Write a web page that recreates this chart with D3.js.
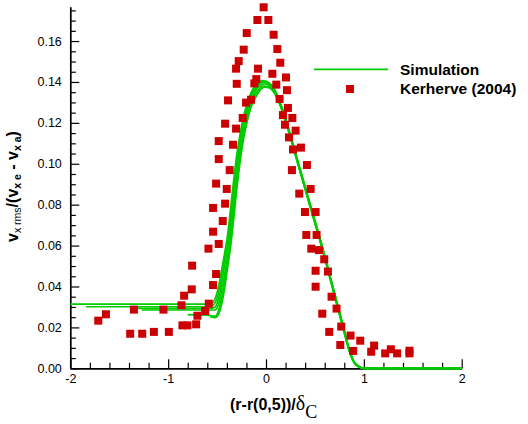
<!DOCTYPE html>
<html>
<head>
<meta charset="utf-8">
<script src="https://cdn.jsdelivr.net/npm/d3@7"></script>
<style>
  html, body { margin: 0; padding: 0; background: #fff; }
  svg { display: block; font-family: "Liberation Sans", Arial, Helvetica, sans-serif; }
</style>
</head>
<body>
<svg id="chart" width="528" height="424"></svg>
<script>
// ---------- Data ----------
// Experimental (Kerherve 2004)
const expX = [-0.024,-0.088,0.024,-0.197,0.078,-0.228,0.116,-0.279,0.146,-0.306,
  -0.082,0.065,0.204,-0.099,-0.299,-0.119,0.105,0.214,-0.388,-0.153,
  -0.204,0.139,0.224,0.173,-0.238,0.269,-0.418,0.194,-0.306,0.303,
  0.235,-0.483,-0.337,0.276,0.357,-0.483,-0.371,0.265,0.418,-0.510,
  -0.401,0.456,0.340,-0.541,-0.418,0.398,0.507,-0.442,-0.541,0.412,
  0.517,-0.483,-0.588,0.463,0.541,0.595,-0.755,0.507,0.633,-0.510,
  -0.759,-0.541,0.507,-0.837,0.670,-0.864,-0.585,-0.622,-0.701,-1.350,
  -1.048,0.721,0.575,-1.714,-1.636,-0.854,-0.803,-0.714,0.769,0.646,
  -1.388,-1.265,-1.146,-0.993,0.864,0.963,0.759,1.105,0.891,1.075,
  1.276,1.218,1.340,1.466,1.466];
const expY = [0.1765,0.1703,0.1703,0.1639,0.1631,0.1558,0.1561,0.1502,0.1494,0.1465,
  0.1465,0.1440,0.1422,0.1414,0.1391,0.1393,0.1387,0.1360,0.1310,0.1313,
  0.1299,0.1317,0.1273,0.1238,0.1224,0.1224,0.1196,0.1191,0.1172,0.1162,
  0.1129,0.1111,0.1093,0.1070,0.1079,0.1023,0.0969,0.0969,0.0994,0.0903,
  0.0877,0.0877,0.0854,0.0784,0.0805,0.0764,0.0764,0.0720,0.0668,0.0652,
  0.0652,0.0608,0.0585,0.0585,0.0578,0.0533,0.0502,0.0477,0.0473,0.0461,
  0.0386,0.0407,0.0399,0.0355,0.0350,0.0308,0.0316,0.0280,0.0257,0.0287,
  0.0287,0.0292,0.0267,0.0233,0.0264,0.0210,0.0210,0.0215,0.0204,0.0178,
  0.0169,0.0169,0.0178,0.0178,0.0160,0.0135,0.0114,0.0111,0.0085,0.0081,
  0.0093,0.0073,0.0073,0.0086,0.0073];

// Simulation curves (shared abscissa; null = curve not defined there)
const simX = [-2,-1.84,-1.39,-1.27,-0.80,-0.57,-0.52,-0.48,-0.45,-0.42,
  -0.39,-0.36,-0.33,-0.30,-0.27,-0.23,-0.19,-0.15,-0.10,-0.05,
  -0.02,0.03,0.08,0.14,0.21,0.33,0.45,0.57,0.68,0.79,
  0.85,0.90,0.95,1.00,2.00];
const sim1 = [0.0314,0.0314,0.0314,0.0314,0.0314,0.0314,0.0340,0.0410,0.0490,0.0570,
  0.0660,0.0790,0.0920,0.1040,0.1130,0.1230,0.1300,0.1350,0.1390,0.1405,
  0.1405,0.1395,0.1370,0.1305,0.1205,0.1005,0.0805,0.0605,0.0405,0.0205,
  0.0095,0.0033,0.0010,0.0000,0.0000];
const sim2 = [null,0.0301,0.0301,0.0301,0.0301,0.0301,0.0320,0.0380,0.0460,0.0540,
  0.0620,0.0740,0.0880,0.1000,0.1100,0.1210,0.1280,0.1340,0.1380,0.1400,
  0.1400,0.1393,0.1368,0.1302,0.1202,0.1002,0.0802,0.0602,0.0402,0.0202,
  0.0092,0.0031,0.0009,0.0000,0.0000];
const sim3 = [null,null,0.0293,0.0293,0.0293,0.0293,0.0300,0.0350,0.0430,0.0510,
  0.0590,0.0700,0.0840,0.0970,0.1080,0.1190,0.1270,0.1330,0.1370,0.1395,
  0.1398,0.1392,0.1366,0.1301,0.1201,0.1001,0.0801,0.0601,0.0401,0.0201,
  0.0091,0.0030,0.0008,0.0000,0.0000];
const sim4 = [null,null,null,0.0285,0.0285,0.0285,0.0285,0.0320,0.0390,0.0470,
  0.0550,0.0650,0.0790,0.0930,0.1050,0.1170,0.1250,0.1310,0.1360,0.1385,
  0.1390,0.1385,0.1362,0.1298,0.1198,0.0998,0.0798,0.0598,0.0398,0.0198,
  0.0090,0.0029,0.0008,0.0000,0.0000];
const sim5 = [null,null,null,null,0.0262,0.0258,0.0255,0.0290,0.0350,0.0440,
  0.0530,0.0630,0.0760,0.0900,0.1020,0.1150,0.1230,0.1300,0.1345,0.1375,
  0.1380,0.1378,0.1355,0.1295,0.1195,0.0995,0.0795,0.0595,0.0395,0.0195,
  0.0088,0.0028,0.0007,0.0000,0.0000];
const sim6 = [null,null,null,null,null,0.0252,0.0248,0.0270,0.0320,0.0400,
  0.0500,0.0600,0.0730,0.0870,0.0990,0.1120,0.1210,0.1280,0.1330,0.1365,
  0.1375,0.1372,0.1350,0.1290,0.1190,0.0990,0.0790,0.0590,0.0390,0.0190,
  0.0085,0.0027,0.0006,0.0000,0.0000];
const simSeries = [sim1, sim2, sim3, sim4, sim5, sim6];

// Axis ticks
const xTicks = [-2,-1,0,1,2];
const xMinorTicks = [-1.8,-1.6,-1.4,-1.2,-0.8,-0.6,-0.4,-0.2,0.2,0.4,0.6,0.8,1.2,1.4,1.6,1.8];
const yTicks = [0,0.02,0.04,0.06,0.08,0.10,0.12,0.14,0.16];
const yMinorTicks = [0.005,0.01,0.015,0.025,0.03,0.035,0.045,0.05,0.055,0.065,0.07,0.075,
  0.085,0.09,0.095,0.105,0.11,0.115,0.125,0.13,0.135,0.145,0.15,0.155,0.165,0.17,0.175];
const legendLabels = ["Simulation", "Kerherve (2004)"];

// ---------- Drawing ----------
const green = "#00cc00", red = "#cc0000";
const svg = d3.select("#chart");
const x = d3.scaleLinear().domain([-2, 2]).range([70.3, 461.7]);
const y = d3.scaleLinear().domain([0, 0.1768]).range([368.3, 6.7]);

// simulation lines
const line = d3.line()
  .defined(d => d[1] !== null)
  .x(d => x(d[0])).y(d => y(d[1]))
  .curve(d3.curveMonotoneX);
svg.append("g").selectAll("path").data(simSeries).join("path")
  .attr("d", s => line(simX.map((v, i) => [v, s[i]])))
  .attr("fill", "none").attr("stroke", green).attr("stroke-width", 1.7);

// axes
const fmtY = d3.format(".2f");
const gy = svg.append("g").attr("transform", `translate(${x(-2)},0)`);
gy.call(d3.axisLeft(y).tickValues(yTicks).tickFormat(fmtY).tickSize(-9).tickSizeOuter(0).tickPadding(8.5));
const gyMinor = svg.append("g").attr("transform", `translate(${x(-2)},0)`);
gyMinor.call(d3.axisLeft(y).tickValues(yMinorTicks).tickFormat("").tickSize(-5.5).tickSizeOuter(0));
gyMinor.select(".domain").remove();

const gx = svg.append("g").attr("transform", `translate(0,${y(0)})`);
gx.call(d3.axisBottom(x).tickValues(xTicks).tickFormat(d => String(d)).tickSize(-9).tickSizeOuter(0).tickPadding(5.5));
const gxMinor = svg.append("g").attr("transform", `translate(0,${y(0)})`);
gxMinor.call(d3.axisBottom(x).tickValues(xMinorTicks).tickFormat("").tickSize(-5.5).tickSizeOuter(0));
gxMinor.select(".domain").remove();

svg.selectAll(".domain").attr("stroke", "#000").attr("stroke-width", 1.7);
svg.selectAll(".tick line").attr("stroke", "#000").attr("stroke-width", 1.2);
svg.selectAll(".tick text").attr("font-size", 12.5).attr("fill", "#000")
  .attr("font-family", "'Liberation Sans', Arial, Helvetica, sans-serif");

// bring sim lines' flat zero segment on top of axis: redraw order -> put axes first? keep lines above axis
svg.select("g").raise();

// experimental squares
const sq = 8;
svg.append("g").selectAll("rect").data(expX.map((v, i) => [v, expY[i]])).join("rect")
  .attr("x", d => x(d[0]) - sq / 2).attr("y", d => y(d[1]) - sq / 2)
  .attr("width", sq).attr("height", sq).attr("fill", red);

// legend
const lg = svg.append("g");
lg.append("line").attr("x1", 314).attr("x2", 388).attr("y1", 69.3).attr("y2", 69.3)
  .attr("stroke", green).attr("stroke-width", 1.7);
lg.append("rect").attr("x", 350 - sq / 2).attr("y", 89 - sq / 2).attr("width", sq).attr("height", sq).attr("fill", red);
lg.selectAll("text").data(legendLabels).join("text")
  .attr("x", 400).attr("y", (d, i) => 75 + i * 18.5)
  .attr("font-size", 15.5).attr("font-weight", "bold").attr("fill", "#000")
  .text(d => d);

// x title
const xt = svg.append("text").attr("x", 230).attr("y", 410).attr("fill", "#000");
xt.append("tspan").attr("font-size", 16).attr("font-weight", "bold").text("(r-r(0,5))/");
xt.append("tspan").attr("font-size", 20).attr("font-family", "'Liberation Serif', 'Times New Roman', serif")
  .text("δ");
xt.append("tspan").attr("font-size", 18).attr("dy", 8).attr("font-family", "'Liberation Serif', 'Times New Roman', serif")
  .text("C");

// y title
const yt = svg.append("text").attr("transform", "translate(18,186.5) rotate(-90)")
  .attr("text-anchor", "middle").attr("font-weight", "bold").attr("font-size", 16).attr("fill", "#000");
yt.append("tspan").text("v");
yt.append("tspan").attr("font-size", 10.5).attr("font-weight", "normal").attr("dy", 3).text("x rms");
yt.append("tspan").attr("dy", -3).text("/(v");
yt.append("tspan").attr("font-size", 10.5).attr("dy", 3).text("x e");
yt.append("tspan").attr("dy", -3).text(" - v");
yt.append("tspan").attr("font-size", 10.5).attr("dy", 3).text("x a");
yt.append("tspan").attr("dy", -3).text(")");
</script>
</body>
</html>
